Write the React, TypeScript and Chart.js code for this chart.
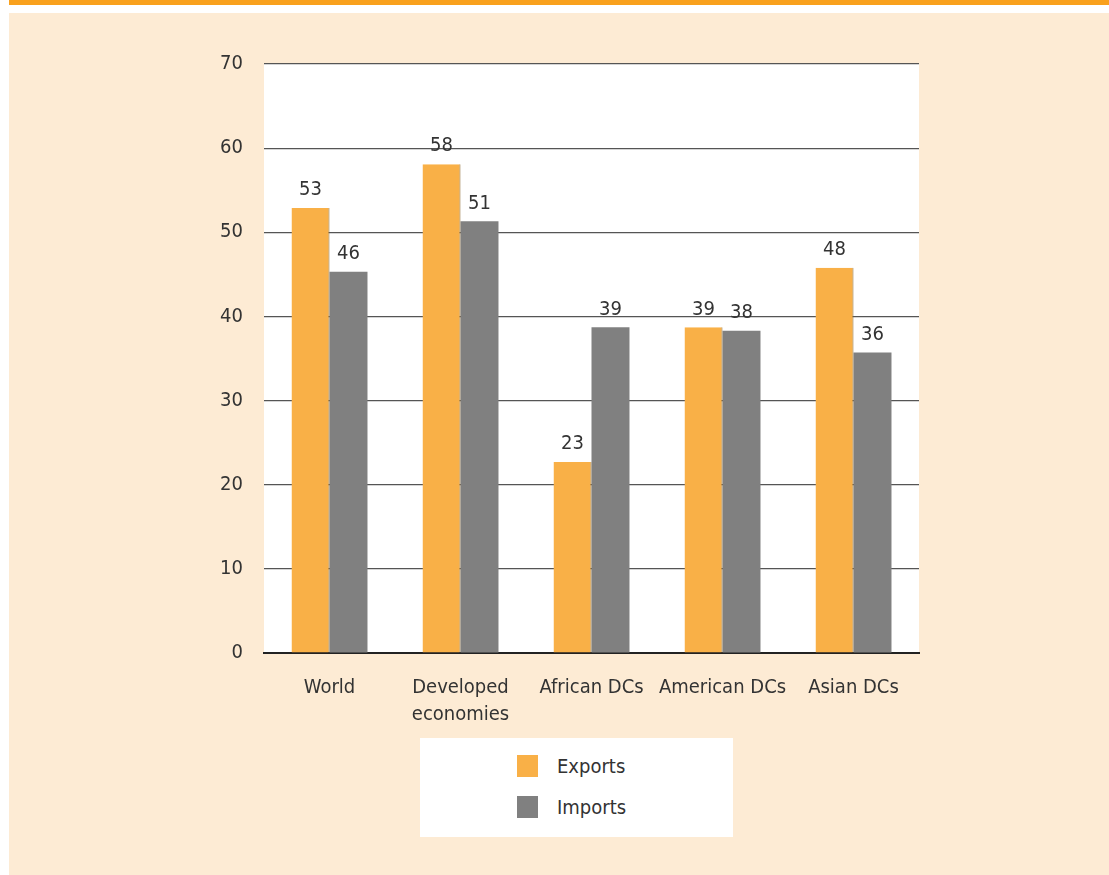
import React, { useEffect, useRef } from "react";
import { Chart, registerables } from "chart.js";

Chart.register(...registerables);

const categories: (string | string[])[] = ["World", ["Developed", "economies"], "African DCs", "American DCs", "Asian DCs"];
const exportsValues = [52.9, 58.1, 22.7, 38.7, 45.8];
const importsValues = [45.3, 51.3, 38.7, 38.3, 35.7];
const exportsLabels = ["53", "58", "23", "39", "48"];
const importsLabels = ["46", "51", "39", "38", "36"];
const yTicks = [0, 10, 20, 30, 40, 50, 60, 70];

const FONT = "'DejaVu Sans Condensed', 'Roboto', sans-serif";
const FSIZE = 20;
const TEXT = "#333333";
const ORANGE = "#f9b047";
const GRAY = "#808080";
const BEIGE = "#fdebd4";

const labelPlugin = {
  id: "barLabels",
  afterDatasetsDraw(chart: any) {
    const ctx = chart.ctx;
    const sets = [exportsLabels, importsLabels];
    ctx.save();
    ctx.font = `${FSIZE}px ${FONT}`;
    ctx.fillStyle = TEXT;
    ctx.textAlign = "center";
    ctx.textBaseline = "middle";
    chart.data.datasets.forEach((_: any, di: number) => {
      const meta = chart.getDatasetMeta(di);
      meta.data.forEach((bar: any, i: number) => {
        ctx.fillText(sets[di][i], bar.x, bar.y - 18);
      });
    });
    ctx.restore();
  },
};

export default function App() {
  const ref = useRef<HTMLCanvasElement>(null);
  useEffect(() => {
    if (!ref.current) return;
    const chart = new Chart(ref.current, {
      type: "bar",
      data: {
        labels: categories,
        datasets: [
          {
            label: "Exports",
            data: exportsValues,
            backgroundColor: ORANGE,
            borderColor: "#8a6a30",
            borderWidth: { top: 0, left: 0, bottom: 0, right: 1 },
            borderSkipped: false,
          },
          {
            label: "Imports",
            data: importsValues,
            backgroundColor: GRAY,
          },
        ],
      },
      options: {
        animation: false,
        responsive: false,
        maintainAspectRatio: false,
        layout: { padding: { left: 0, top: 64, right: 190, bottom: 0 } },
        datasets: { bar: { categoryPercentage: 0.58, barPercentage: 1 } },
        plugins: {
          legend: { display: false },
          tooltip: { enabled: false },
        },
        scales: {
          x: {
            grid: { display: false, drawTicks: false },
            border: { display: true, color: "#222222", width: 2 },
            ticks: {
              padding: 21,
              color: TEXT,
              font: { family: FONT, size: FSIZE, lineHeight: 1.35 },
              maxRotation: 0,
              autoSkip: false,
            },
            afterFit(scale: any) {
              scale.height = 82;
            },
          },
          y: {
            min: 0,
            max: 70,
            afterBuildTicks(scale: any) {
              scale.ticks = yTicks.map((v) => ({ value: v }));
            },
            grid: { color: "#555555", lineWidth: 1.2, drawTicks: false },
            border: { display: false },
            ticks: {
              padding: 21,
              color: TEXT,
              font: { family: FONT, size: FSIZE },
            },
            afterFit(scale: any) {
              scale.width = 264;
            },
          },
        },
      },
      plugins: [
        {
          id: "plotBg",
          beforeDraw(c: any) {
            const a = c.chartArea;
            c.ctx.save();
            c.ctx.fillStyle = "#ffffff";
            c.ctx.fillRect(a.left, a.top, a.right - a.left, a.bottom - a.top);
            c.ctx.restore();
          },
        },
        labelPlugin,
      ],
    });
    return () => chart.destroy();
  }, []);

  const swatch = (color: string): React.CSSProperties => ({
    width: 21,
    height: 22,
    background: color,
    marginRight: 19,
  });

  return (
    <div style={{ position: "absolute", left: 0, top: 0, width: 1109, height: 875, background: "#ffffff", overflow: "hidden" }}>
      <div style={{ position: "absolute", left: 9, top: 0, width: 1100, height: 5, background: "#f9a11d" }} />
      <div style={{ position: "absolute", left: 9, top: 13, width: 1100, height: 862, background: BEIGE }} />
      <canvas ref={ref} width={1109} height={735} style={{ position: "absolute", left: 0, top: 0, width: 1109, height: 735 }} />
      <div
        style={{
          position: "absolute",
          left: 420,
          top: 738,
          width: 313,
          height: 99,
          background: "#ffffff",
          fontFamily: FONT,
          fontSize: FSIZE,
          color: TEXT,
        }}
      >
        <div style={{ position: "absolute", left: 97, top: 17, display: "flex", alignItems: "center", height: 22 }}>
          <div style={swatch(ORANGE)} />
          <span>Exports</span>
        </div>
        <div style={{ position: "absolute", left: 97, top: 58, display: "flex", alignItems: "center", height: 22 }}>
          <div style={swatch(GRAY)} />
          <span>Imports</span>
        </div>
      </div>
    </div>
  );
}
